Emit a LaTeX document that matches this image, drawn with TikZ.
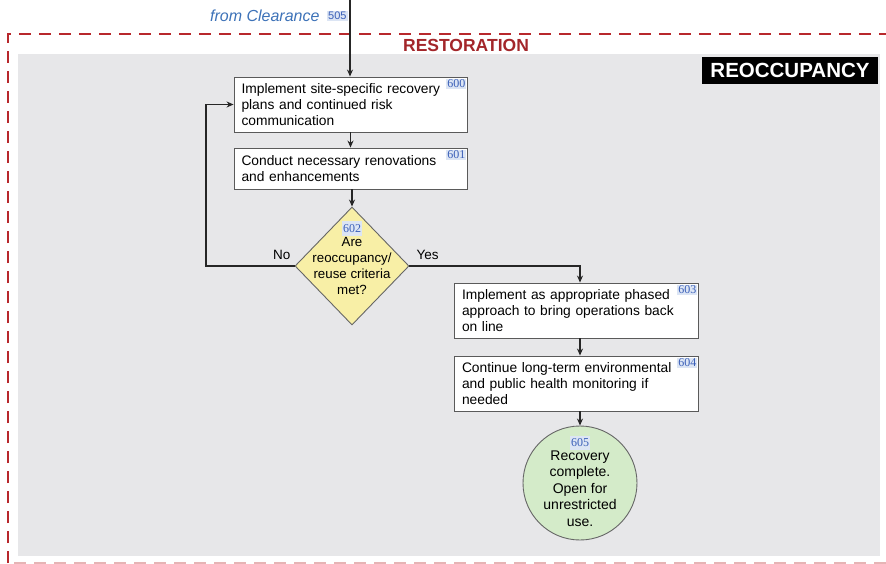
\documentclass[tikz,border=0pt]{standalone}
\usepackage{fontspec}
\setmainfont{Liberation Sans}
\newfontfamily\numfont{Liberation Serif}
\usetikzlibrary{shapes.geometric,arrows.meta}
\definecolor{redline}{HTML}{B8282C}
\definecolor{redtext}{HTML}{A3262A}
\definecolor{bggray}{HTML}{E7E7E9}
\definecolor{numblue}{HTML}{3A5FB8}
\definecolor{numbg}{HTML}{DCE5F4}
\definecolor{fromblue}{HTML}{3D72B8}
\definecolor{diafill}{HTML}{F8EFA6}
\definecolor{circfill}{HTML}{D4EBC9}
\definecolor{boxline}{HTML}{5A5A5A}
\tikzset{
  stepbox/.style={draw=boxline, fill=white, line width=0.9pt, rectangle, inner sep=0pt,
    minimum height=#1, text width=218pt, align=left,
    font=\fontsize{13.8}{16}\selectfont},
  numlbl/.style={fill=numbg, text=numblue, inner sep=1pt, font=\numfont\fontsize{12}{12}\selectfont},
  conn/.style={draw=black!85, line width=1.1pt, -{Stealth[length=7pt,width=6pt]}},
}
\begin{document}
\begin{tikzpicture}[x=1pt,y=-1pt]
\useasboundingbox (0,0) rectangle (886,564);
\fill[white] (0,0) rectangle (886,564);
% gray area
\fill[bggray] (18,54) rectangle (880,556);
% red dashed border
\draw[redline, line width=2.6pt, dash pattern=on 12pt off 8pt] (8,563) -- (8,34) -- (892,34);
\draw[redline!35, line width=2.6pt, dash pattern=on 12pt off 8pt] (14,563) -- (886,563);
\node[text=redtext, font=\bfseries\fontsize{17.5}{17.5}\selectfont] (rest) at (466,45) {RESTORATION};
\node[fill=black, text=white, font=\bfseries\fontsize{20.5}{20.5}\selectfont, minimum width=176pt, minimum height=27pt, inner sep=0pt] (reo) at (790,70.5) {REOCCUPANCY};
% from clearance
\node[text=fromblue, font=\itshape\fontsize{16}{16}\selectfont, anchor=east] (from) at (323,16) {from Clearance};
\node[numlbl, font=\fontsize{11}{11}\selectfont\addfontfeatures{}, anchor=west] (n505) at (327,16) {505};
\coordinate (top) at (350,0);
% boxes
\node[stepbox=55pt, minimum width=233pt] (b600) at (350.5,104.5) {Implement site-specific recovery\\plans and continued risk\\communication};
\node[stepbox=41pt, minimum width=233pt] (b601) at (350.5,168.5) {Conduct necessary renovations\\and enhancements};
\node[numlbl, anchor=north east] at ([xshift=-1pt,yshift=-2pt]b600.north east) {600};
\node[numlbl, anchor=north east] at ([xshift=-1pt,yshift=-2pt]b601.north east) {601};
% diamond
\node[diamond, draw=black!60, fill=diafill, line width=0.9pt, minimum width=114pt, minimum height=118pt, inner sep=0pt] (d602) at (352,266) {};
\node[align=center, font=\fontsize{13.3}{16}\selectfont, inner sep=0pt] (d602t) at (352,258) {\numfont\fontsize{12}{12}\selectfont\colorbox{numbg}{\kern-2pt\textcolor{numblue}{602}\kern-2pt}\\[-2pt]Are\\reoccupancy/\\reuse criteria\\met?};
% right side boxes
\node[stepbox=55pt, minimum width=244pt, text width=228pt] (b603) at (576,310.5) {Implement as appropriate phased\\approach to bring operations back\\on line};
\node[stepbox=55pt, minimum width=244pt, text width=228pt] (b604) at (576,383.5) {Continue long-term environmental\\and public health monitoring if\\needed};
\node[numlbl, anchor=north east] at ([xshift=-1pt,yshift=-2pt]b603.north east) {603};
\node[numlbl, anchor=north east] at ([xshift=-1pt,yshift=-2pt]b604.north east) {604};
% circle
\node[circle, draw=black!60, fill=circfill, line width=0.9pt, minimum size=114pt, inner sep=0pt] (c605) at (580,483) {};
\node[align=center, font=\fontsize{14}{16.5}\selectfont, inner sep=0pt] (c605t) at (580,481) {\numfont\fontsize{12}{12}\selectfont\colorbox{numbg}{\kern-2pt\textcolor{numblue}{605}\kern-2pt}\\[-3pt]Recovery\\complete.\\Open for\\unrestricted\\use.};
% connectors
\draw[conn] (top) -- (b600.north -| top);
\draw[conn] (b600) -- (b601);
\draw[conn] (b601.south -| d602) -- (d602.north);
\coordinate (loopc) at (206,266);
\draw[conn] (d602.west) -- (loopc) |- (b600.west);
\coordinate (yesc) at (580,266);
\draw[conn] (d602.east) -- (yesc) -- (yesc |- b603.north);
\draw[conn] (b603.south -| yesc) -- (b604.north -| yesc);
\draw[conn] (b604.south -| c605) -- (c605.north);
\node[font=\fontsize{13.5}{13.5}\selectfont, anchor=east] (no) at (294,255) {No};
\node[font=\fontsize{13.5}{13.5}\selectfont, anchor=west] (yes) at (413,255) {Yes};
\end{tikzpicture}
\end{document}
